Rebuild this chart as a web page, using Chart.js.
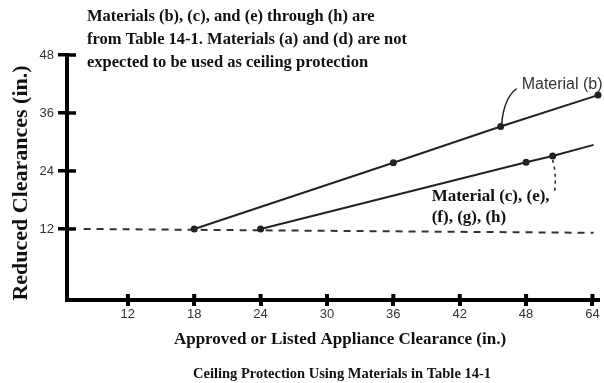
<!DOCTYPE html>
<html lang="en">
<head>
<meta charset="UTF-8">
<title>Ceiling Protection Using Materials in Table 14-1</title>
<script src="https://cdn.jsdelivr.net/npm/chart.js"></script>
<style>
  html, body { margin: 0; padding: 0; background: #fff; }
  #wrap { width: 604px; height: 383px; position: relative; }
</style>
</head>
<body>
<div id="wrap"><canvas id="chart" width="604" height="383"></canvas></div>
<script>
// ---- data ----
const xTicks = [12, 18, 24, 30, 36, 42, 48, 54];
const xTickLabels = ['12', '18', '24', '30', '36', '42', '48', '64'];
const yTicks = [12, 24, 36, 48];

const materialBX = [18, 36, 45.7, 54.5];
const materialBY = [12, 25.7, 33.2, 39.7];
const materialCX = [24, 48, 50.4, 54.1];
const materialCY = [12, 25.8, 27.1, 29.4];
const baselineX = [8, 54.1];
const baselineY = [12, 11.2];

const noteLines = [
  'Materials (b), (c), and (e) through (h) are',
  'from Table 14-1. Materials (a) and (d) are not',
  'expected to be used as ceiling protection'
];
const labelB = 'Material (b)';
const labelC = ['Material (c), (e),', '(f), (g), (h)'];
const xTitle = 'Approved or Listed Appliance Clearance (in.)';
const yTitle = 'Reduced Clearances (in.)';
const caption = 'Ceiling Protection Using Materials in Table 14-1';

function pts(xs, ys) {
  return xs.map((x, i) => ({ x: x, y: ys[i] }));
}

const serif = '"Liberation Serif", "Times New Roman", serif';
Chart.defaults.font.family = '"Liberation Sans", Arial, sans-serif';

// draws the crossing tick marks, titles, notes, labels and leaders
const annotate = {
  id: 'annotate',
  afterDraw(chart) {
    const ctx = chart.ctx;
    const area = chart.chartArea;
    const x = chart.scales.x, y = chart.scales.y;
    ctx.save();

    // inner half of the tick marks
    ctx.strokeStyle = '#000';
    ctx.lineWidth = 4;
    xTicks.forEach(v => {
      const px = x.getPixelForValue(v);
      ctx.beginPath();
      ctx.moveTo(px, area.bottom);
      ctx.lineTo(px, area.bottom - 6);
      ctx.stroke();
    });
    ctx.lineWidth = 3.5;
    yTicks.forEach(v => {
      const py = y.getPixelForValue(v);
      ctx.beginPath();
      ctx.moveTo(area.left, py);
      ctx.lineTo(area.left + 9, py);
      ctx.stroke();
    });

    // note at the top
    ctx.fillStyle = '#111';
    ctx.textAlign = 'left';
    ctx.textBaseline = 'middle';
    ctx.font = 'bold 16.5px ' + serif;
    noteLines.forEach((t, i) => ctx.fillText(t, 87, 17 + i * 23));

    // Material (b) label with curved leader
    const b = chart.getDatasetMeta(0).data[2];
    ctx.strokeStyle = '#222';
    ctx.lineWidth = 1.5;
    ctx.beginPath();
    ctx.moveTo(b.x + 16, b.y - 38);
    ctx.quadraticCurveTo(b.x + 3, b.y - 28, b.x + 1, b.y - 2);
    ctx.stroke();
    ctx.fillStyle = '#333';
    ctx.font = '16px "Liberation Sans", Arial, sans-serif';
    ctx.fillText(labelB, b.x + 21, b.y - 42);

    // Material (c)... label with dashed leader
    const c = chart.getDatasetMeta(1).data[2];
    ctx.setLineDash([3, 4]);
    ctx.beginPath();
    ctx.moveTo(c.x, c.y + 4);
    ctx.quadraticCurveTo(c.x + 4, c.y + 18, c.x + 2, c.y + 35);
    ctx.stroke();
    ctx.setLineDash([]);
    ctx.fillStyle = '#111';
    ctx.font = 'bold 17px ' + serif;
    labelC.forEach((t, i) => ctx.fillText(t, c.x - 121, c.y + 41 + i * 21));

    // axis titles and caption
    ctx.textAlign = 'center';
    ctx.font = 'bold 17px ' + serif;
    ctx.fillText(xTitle, 340, 340);
    ctx.font = 'bold 14.5px ' + serif;
    ctx.fillText(caption, 342, 374);

    ctx.translate(21, 183);
    ctx.rotate(-Math.PI / 2);
    ctx.font = 'bold 22px ' + serif;
    ctx.fillText(yTitle, 0, 0);

    ctx.restore();
  }
};

new Chart(document.getElementById('chart'), {
  type: 'scatter',
  data: {
    datasets: [
      {
        label: 'Material (b)',
        data: pts(materialBX, materialBY),
        showLine: true,
        borderColor: '#222',
        backgroundColor: '#222',
        borderWidth: 2,
        pointRadius: [2.5, 2.5, 2.5, 2.5],
        clip: false
      },
      {
        label: 'Material (c), (e), (f), (g), (h)',
        data: pts(materialCX, materialCY),
        showLine: true,
        borderColor: '#222',
        backgroundColor: '#222',
        borderWidth: 2,
        pointRadius: [2.5, 2.5, 2.5, 0],
        clip: false
      },
      {
        label: 'Baseline',
        data: pts(baselineX, baselineY),
        showLine: true,
        borderColor: '#333',
        borderWidth: 2,
        borderDash: [7, 6],
        pointRadius: 0,
        clip: false
      }
    ]
  },
  options: {
    responsive: false,
    animation: false,
    layout: { padding: { left: 0, right: 5, top: 55, bottom: 0 } },
    plugins: {
      legend: { display: false },
      tooltip: { enabled: false }
    },
    scales: {
      x: {
        type: 'linear',
        min: 6.5,
        max: 54.5,
        afterBuildTicks: s => { s.ticks = xTicks.map(v => ({ value: v })); },
        afterFit: s => { s.height = 83; },
        border: { display: true, color: '#000', width: 4 },
        grid: { drawOnChartArea: false, drawTicks: true, tickLength: 6, lineWidth: 4, color: '#000' },
        ticks: {
          color: '#333',
          font: { size: 13 },
          padding: 1,
          maxRotation: 0,
          autoSkip: false,
          callback: v => xTickLabels[xTicks.indexOf(v)]
        }
      },
      y: {
        type: 'linear',
        min: -2.7,
        max: 48,
        afterBuildTicks: s => { s.ticks = yTicks.map(v => ({ value: v })); },
        afterFit: s => { s.width = 67; },
        border: { display: true, color: '#000', width: 4 },
        grid: { drawOnChartArea: false, drawTicks: true, tickLength: 9, lineWidth: 3.5, color: '#000' },
        ticks: {
          color: '#333',
          font: { size: 13 },
          padding: 4,
          autoSkip: false
        }
      }
    }
  },
  plugins: [annotate]
});
</script>
</body>
</html>
